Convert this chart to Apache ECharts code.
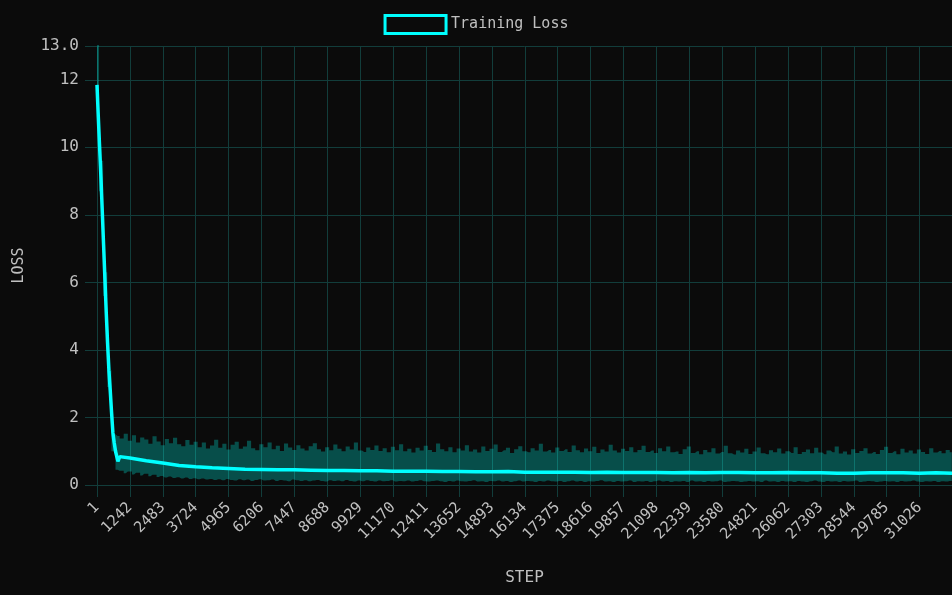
<!DOCTYPE html>
<html>
<head>
<meta charset="utf-8">
<title>Training Loss</title>
<script src="https://cdn.jsdelivr.net/npm/echarts@6/dist/echarts.min.js"></script>
<style>
  html, body { margin: 0; padding: 0; background: #0b0b0b; }
  #chart { width: 952px; height: 595px; }
</style>
</head>
<body>
<div id="chart"></div>
<script>
// smoothed loss
const lossSteps = [1, 50, 100, 150, 200, 250, 300, 350, 400, 450,
  500, 550, 600, 650, 700, 790, 860, 1242, 1860, 2483,
  3100, 3724, 4345, 4965, 5585, 6206, 6827, 7447, 8068, 8688,
  9309, 9929, 10550, 11170, 11790, 12411, 13031, 13652, 14272, 14893,
  15513, 16134, 16754, 17375, 17995, 18616, 19236, 19857, 20477, 21098,
  21718, 22339, 22959, 23580, 24200, 24821, 25441, 26062, 26682, 27303,
  27923, 28544, 29164, 29785, 30405, 31026, 31646, 32248]
const lossValues = [11.85, 10.9, 10.0, 9.1, 8.1, 7.1, 6.1, 5.1, 4.2, 3.4,
  2.8, 2.15, 1.55, 1.25, 1.0, 0.70, 0.84, 0.80, 0.72, 0.65,
  0.58, 0.54, 0.51, 0.49, 0.47, 0.46, 0.45, 0.45, 0.44, 0.43,
  0.43, 0.42, 0.42, 0.41, 0.41, 0.41, 0.40, 0.40, 0.39, 0.39,
  0.40, 0.38, 0.38, 0.38, 0.38, 0.37, 0.38, 0.37, 0.37, 0.37,
  0.36, 0.37, 0.36, 0.37, 0.37, 0.36, 0.36, 0.37, 0.36, 0.36,
  0.35, 0.35, 0.36, 0.36, 0.36, 0.35, 0.36, 0.35]

// raw loss min / max band, one value every BAND_STRIDE steps starting at step 1
const BAND_STRIDE = 155
const bandUpper = [13.6, 9.6, 6.3, 3.4, 1.5, 1.45,
  1.38, 1.52, 1.31, 1.47, 1.26, 1.41, 1.35, 1.22, 1.44, 1.29, 1.18, 1.36, 1.24, 1.40, 1.21, 1.15, 1.33, 1.19, 1.28, 1.12,
  1.26, 1.08, 1.17, 1.34, 1.10, 1.22, 1.05, 1.19, 1.28, 1.07, 1.14, 1.31, 1.09, 1.03, 1.21, 1.12, 1.26, 1.06, 1.16, 1.01, 1.23, 1.11, 1.04, 1.18, 1.08,
  1.02, 1.15, 1.24, 1.06, 0.99, 1.12, 1.03, 1.20, 1.07, 1.00, 1.14, 1.05, 1.26, 1.02, 0.98, 1.11, 1.04, 1.17, 1.01, 1.09, 0.97, 1.13, 1.03, 1.21, 1.00, 1.07, 0.96, 1.10, 1.02, 1.16,
  1.04, 0.98, 1.23, 1.06, 1.00, 1.12, 0.97, 1.08, 1.02, 1.18, 0.99, 1.05, 0.96, 1.14, 1.01, 1.07, 1.20, 0.98, 1.03, 1.10, 0.95, 1.06, 1.15, 1.00, 0.97, 1.09, 1.02, 1.22, 0.99, 1.04,
  0.96, 1.11, 1.01, 1.06, 0.98, 1.17, 1.03, 0.97, 1.08, 1.00, 1.13, 0.95, 1.05, 0.99, 1.19, 1.02, 0.96, 1.07, 1.01, 1.12, 0.97, 1.04, 1.16, 0.98, 1.02, 0.95, 1.09, 1.00, 1.14, 0.97,
  0.99, 0.92, 1.06, 1.14, 0.95, 1.00, 0.91, 1.04, 0.97, 1.09, 0.93, 0.98, 1.16, 0.94, 0.90, 1.02, 0.96, 1.07, 0.92, 0.99, 1.11, 0.94, 0.91, 1.03, 0.97, 1.08, 0.93, 1.00, 0.95, 1.12,
  0.92, 0.98, 1.05, 0.94, 1.10, 0.96, 0.91, 1.02, 0.97, 1.14, 0.93, 0.99, 0.90, 1.06, 0.95, 1.01, 1.09, 0.93, 0.98, 0.92, 1.04, 1.13, 0.95, 1.00, 0.91, 1.07, 0.96, 1.02, 0.93, 1.05,
  0.98, 0.92, 1.09, 0.96, 1.01, 0.94, 1.04, 0.97]
const bandLower = [11.4, 8.7, 5.6, 2.9, 1.0, 0.45,
  0.42, 0.35, 0.40, 0.31, 0.36, 0.28, 0.33, 0.26, 0.30, 0.24, 0.27, 0.22, 0.25, 0.21, 0.23, 0.19, 0.22, 0.18, 0.20, 0.17,
  0.19, 0.16, 0.18, 0.15, 0.17, 0.14, 0.18, 0.15, 0.13, 0.17, 0.14, 0.16, 0.12, 0.15, 0.17, 0.13, 0.14, 0.16, 0.12, 0.15, 0.13, 0.11, 0.16, 0.14, 0.12,
  0.14, 0.11, 0.13, 0.15, 0.12, 0.10, 0.14, 0.12, 0.13, 0.11, 0.15, 0.12, 0.10, 0.13, 0.11, 0.14, 0.12, 0.10, 0.13, 0.11, 0.12, 0.14, 0.10, 0.12, 0.11, 0.13, 0.10, 0.12, 0.14, 0.11,
  0.10, 0.12, 0.13, 0.11, 0.09, 0.12, 0.10, 0.13, 0.11, 0.10, 0.12, 0.14, 0.10, 0.11, 0.09, 0.12, 0.11, 0.13, 0.10, 0.12, 0.09, 0.11, 0.13, 0.10, 0.12, 0.11, 0.09, 0.12, 0.10, 0.13,
  0.11, 0.10, 0.12, 0.09, 0.11, 0.13, 0.10, 0.12, 0.09, 0.11, 0.10, 0.12, 0.14, 0.10, 0.11, 0.09, 0.12, 0.10, 0.11, 0.13, 0.09, 0.11, 0.10, 0.12, 0.09, 0.11, 0.13, 0.10, 0.12, 0.09,
  0.11, 0.10, 0.12, 0.09, 0.13, 0.10, 0.11, 0.09, 0.12, 0.10, 0.11, 0.13, 0.09, 0.10, 0.12, 0.11, 0.09, 0.10, 0.12, 0.10, 0.11, 0.09, 0.13, 0.10, 0.11, 0.09, 0.12, 0.10, 0.11, 0.09,
  0.12, 0.10, 0.09, 0.11, 0.13, 0.10, 0.09, 0.12, 0.10, 0.11, 0.09, 0.12, 0.10, 0.11, 0.13, 0.09, 0.10, 0.12, 0.11, 0.09, 0.10, 0.12, 0.10, 0.11, 0.09, 0.12, 0.10, 0.11, 0.13, 0.10,
  0.09, 0.11, 0.10, 0.12, 0.09, 0.11, 0.10, 0.12]

const STEP_MIN = 1
const STEP_MAX = 32248
const STEP_INTERVAL = 1241
const LOSS_MAX = 13

const gridColor = '#123d3b'
const textColor = '#c0c0c0'
const mono = 'DejaVu Sans Mono'

const chart = echarts.init(document.getElementById('chart'))

// band points are [loss, step] so the stack runs on the loss dimension
const bandSteps = bandLower.map((_, i) => STEP_MIN + i * BAND_STRIDE)
const lowerData = bandLower.map((v, i) => [v, bandSteps[i]])
const spreadData = bandUpper.map((v, i) => [v - bandLower[i], bandSteps[i]])
const lossData = lossValues.map((v, i) => [lossSteps[i], v])

const options = {
  backgroundColor: '#0b0b0b',
  animation: false,
  textStyle: { fontFamily: mono },
  legend: {
    top: 9,
    left: 'center',
    data: ['Training Loss'],
    icon: 'rect',
    itemWidth: 61,
    itemHeight: 18,
    itemStyle: { color: 'transparent', borderColor: '#00ffff', borderWidth: 3 },
    textStyle: { color: textColor, fontFamily: mono, fontSize: 15 }
  },
  grid: { left: 97, right: 0, top: 46, bottom: 110, outerBoundsMode: 'none' },
  xAxis: {
    type: 'value',
    min: STEP_MIN,
    max: STEP_MAX,
    interval: STEP_INTERVAL,
    name: 'STEP',
    nameLocation: 'middle',
    nameGap: 85,
    nameTextStyle: { color: textColor, fontFamily: mono, fontSize: 16 },
    axisLine: { show: false },
    axisTick: { show: true, length: 12, lineStyle: { color: gridColor } },
    splitLine: { show: true, showMaxLine: false, lineStyle: { color: gridColor } },
    axisLabel: {
      rotate: 45,
      margin: 20,
      color: textColor,
      fontFamily: mono,
      fontSize: 15,
      showMaxLabel: false,
      formatter: (v) => String(v)
    }
  },
  yAxis: {
    type: 'value',
    min: 0,
    max: LOSS_MAX,
    interval: 2,
    name: 'LOSS',
    nameLocation: 'middle',
    nameGap: 70,
    nameTextStyle: { color: textColor, fontFamily: mono, fontSize: 15 },
    axisLine: { show: false },
    axisTick: { show: true, length: 12, lineStyle: { color: gridColor } },
    splitLine: { show: true, lineStyle: { color: gridColor } },
    axisLabel: {
      margin: 18,
      color: textColor,
      fontFamily: mono,
      fontSize: 16,
      formatter: (v) => (v % 2 ? v.toFixed(1) : String(v))
    }
  },
  series: [
    {
      name: 'band-low',
      type: 'line',
      stack: 'band',
      step: 'middle',
      encode: { x: 1, y: 0 },
      data: lowerData,
      symbol: 'none',
      silent: true,
      lineStyle: { opacity: 0 },
      z: 1
    },
    {
      name: 'band-range',
      type: 'line',
      stack: 'band',
      step: 'middle',
      encode: { x: 1, y: 0 },
      data: spreadData,
      symbol: 'none',
      silent: true,
      lineStyle: { opacity: 0 },
      areaStyle: { color: 'rgba(0, 255, 240, 0.28)', opacity: 1 },
      z: 1
    },
    {
      name: 'Training Loss',
      type: 'line',
      data: lossData,
      symbol: 'none',
      color: '#00ffff',
      lineStyle: { color: '#00ffff', width: 3.5 },
      z: 3
    }
  ]
}

chart.setOption(options)
</script>
</body>
</html>
